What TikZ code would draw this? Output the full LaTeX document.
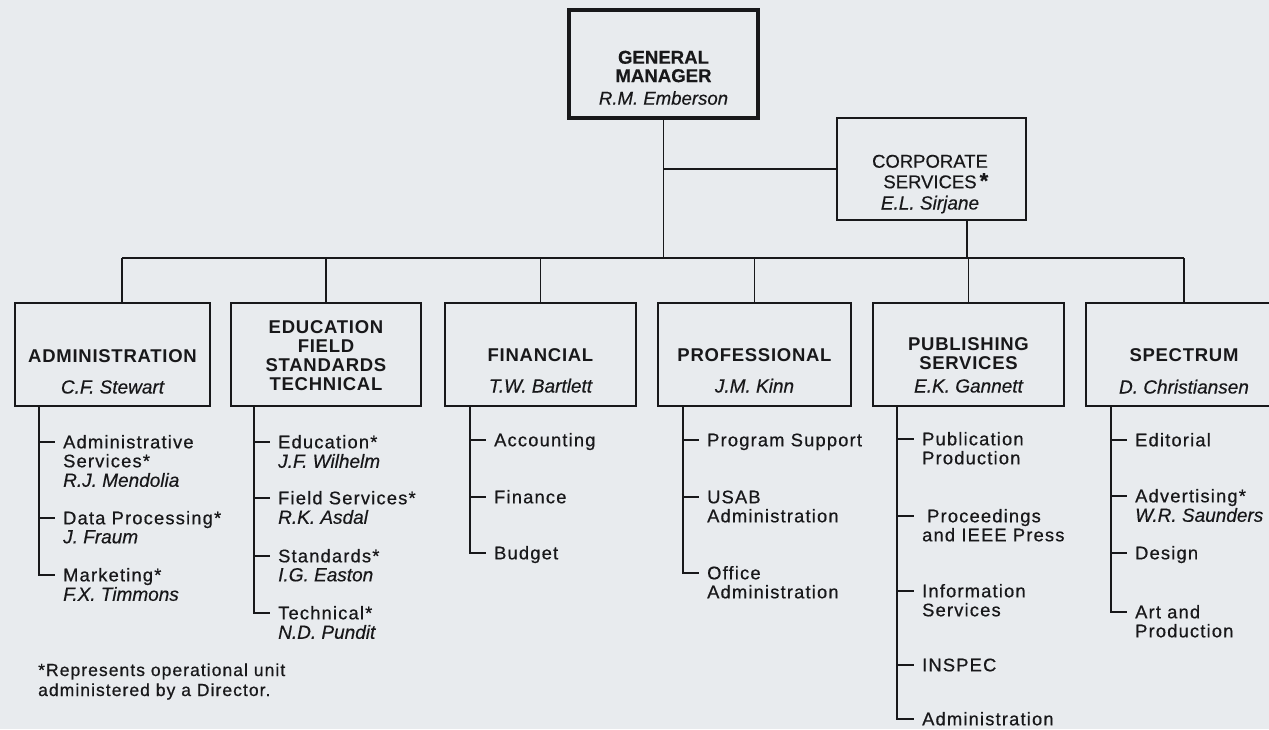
\documentclass[tikz,border=0pt]{standalone}
\usepackage{fontspec}
\setmainfont{Liberation Sans}[FakeBold=0.4]
\newfontfamily\itemfam{Liberation Sans}[LetterSpace=6.5,FakeBold=0.6]
\newfontfamily\notefam{Liberation Sans}[LetterSpace=6,FakeBold=0.6]
\newfontfamily\headfam{Liberation Sans}[LetterSpace=4]
\definecolor{paper}{RGB}{232,235,238}
\definecolor{ink}{RGB}{24,24,26}
% left- and centre-aligned line stacks whose baseline is the first line
\newcommand\stack[1]{\begin{tabular}[t]{@{}l@{}}#1\end{tabular}}
\newcommand\cstack[1]{\begin{tabular}[t]{@{}c@{}}#1\end{tabular}}
% italic person names
\newcommand\who[1]{{\normalfont\fontsize{19}{19}\selectfont\itshape #1}}
% one entry of a department list: name, spine x, tick end x, tick y, text
\newcommand\orgitem[5]{%
  \node[item] (#1) at (#3,#4+6.3) {\stack{#5}};
  \coordinate (#1-s) at (#2,#4);
  \draw[link] (#1-s) -- ([yshift=6.3pt]#1.base west);
}
\begin{document}
\begin{tikzpicture}[x=1pt,y=-1pt,
  box/.style={draw=ink, line width=1.8pt, inner sep=0pt, minimum height=103pt},
  gmline/.style={line width=3.8pt},
  link/.style={draw=ink, line width=1.8pt},
  head/.style={anchor=base, inner sep=0pt, text=ink,
    font=\headfam\fontsize{18.5}{19}\selectfont\bfseries},
  person/.style={anchor=base, inner sep=0pt, text=ink,
    font=\fontsize{19}{19}\selectfont\itshape},
  item/.style={anchor=base west, inner xsep=8pt, inner ysep=0pt, text=ink,
    font=\itemfam\fontsize{18.3}{19}\selectfont},
]
\path[fill=paper, use as bounding box] (0,0) rectangle (1269,729);
\clip (0,0) rectangle (1269,729);

% ---- top level ----
\node[box, gmline, minimum width=189pt, minimum height=108pt] (gm) at (663.5,64) {};
\node[head, font=\fontsize{18.6}{18}\selectfont\bfseries] (gm-h) at (663.5,63.7) {\cstack{GENERAL\\MANAGER}};
\node[person, font=\fontsize{18.6}{19}\selectfont\itshape] (gm-n) at (663.5,104.7) {R.M. Emberson};

\node[box, minimum width=189pt, minimum height=102pt] (corp) at (931.5,169) {};
\node[head, font=\fontsize{18.5}{18}\selectfont] (corp-h) at (930,167.7)
  {\cstack{CORPORATE\\SERVICES\rlap{\,\bfseries\fontsize{22}{18}\selectfont*}}};
\node[person] (corp-n) at (930,209.5) {E.L. Sirjane};

% ---- departments ----
\node[box, minimum width=195pt] (adm)  at (112.5,354.5) {};
\node[box, minimum width=190pt] (edu)  at (326,354.5) {};
\node[box, minimum width=191pt] (fin)  at (540.5,354.5) {};
\node[box, minimum width=193pt] (prof) at (754.5,354.5) {};
\node[box, minimum width=191pt] (pub)  at (968.5,354.5) {};
\node[box, minimum width=196pt] (spec) at (1184,354.5) {};

\node[head] (adm-h) at (112.5,362.5) {ADMINISTRATION};
\node[person] (adm-n) at (112.5,393.5) {C.F. Stewart};
\node[head] (edu-h) at (326,333.5) {\cstack{EDUCATION\\FIELD\\STANDARDS\\TECHNICAL}};
\node[head] (fin-h) at (540.5,361.5) {FINANCIAL};
\node[person] (fin-n) at (540.5,392.5) {T.W. Bartlett};
\node[head] (prof-h) at (754.5,361.5) {PROFESSIONAL};
\node[person] (prof-n) at (754.5,392.5) {J.M. Kinn};
\node[head] (pub-h) at (968.5,350.5) {\cstack{PUBLISHING\\SERVICES}};
\node[person] (pub-n) at (968.5,392.5) {E.K. Gannett};
\node[head] (spec-h) at (1184,361.5) {SPECTRUM};
\node[person] (spec-n) at (1184,393.5) {D. Christiansen};

% ---- connectors between the boxes ----
\coordinate (busL) at (122,258);
\coordinate (busR) at (1184,258);
\draw[link] (busL) -- (busR);
\draw[link] (gm.south) -- (gm.south |- busL);
\draw[link] (gm.south |- corp.west) -- (corp.west);
\draw[link] ([xshift=35.5pt]corp.south) -- ([xshift=35.5pt]corp.south |- busL);
\draw[link] (busL) -- (busL |- adm.north);
\foreach \b in {edu,fin,prof,pub,spec}
  \draw[link] (\b.north) -- (\b.north |- busL);

% ---- Administration ----
\orgitem{a1}{39}{55}{442}{Administrative\\Services*\\\who{R.J. Mendolia}}
\orgitem{a2}{39}{55}{518}{Data Processing*\\\who{J. Fraum}}
\orgitem{a3}{39}{55}{575}{Marketing*\\\who{F.X. Timmons}}
\draw[link] (adm.south -| a1-s) -- (a3-s) -- ([yshift=6.3pt]a3.base west);

% ---- Education / Field / Standards / Technical ----
\orgitem{e1}{254}{270}{442}{Education*\\\who{J.F. Wilhelm}}
\orgitem{e2}{254}{270}{498}{Field Services*\\\who{R.K. Asdal}}
\orgitem{e3}{254}{270}{556}{Standards*\\\who{I.G. Easton}}
\orgitem{e4}{254}{270}{613}{Technical*\\\who{N.D. Pundit}}
\draw[link] (edu.south -| e1-s) -- (e4-s) -- ([yshift=6.3pt]e4.base west);

% ---- Financial ----
\orgitem{f1}{470}{486}{440}{Accounting}
\orgitem{f2}{470}{486}{497}{Finance}
\orgitem{f3}{470}{486}{553}{Budget}
\draw[link] (fin.south -| f1-s) -- (f3-s) -- ([yshift=6.3pt]f3.base west);

% ---- Professional ----
\orgitem{p1}{683}{699}{440}{Program Support}
\orgitem{p2}{683}{699}{497}{USAB\\Administration}
\orgitem{p3}{683}{699}{573}{Office\\Administration}
\draw[link] (prof.south -| p1-s) -- (p3-s) -- ([yshift=6.3pt]p3.base west);

% ---- Publishing Services ----
\orgitem{u1}{897}{914}{439}{Publication\\Production}
\orgitem{u2}{897}{914}{516}{\hspace{5pt}Proceedings\\and IEEE Press}
\orgitem{u3}{897}{914}{591}{Information\\Services}
\orgitem{u4}{897}{914}{665}{INSPEC}
\orgitem{u5}{897}{914}{719}{Administration}
\draw[link] (pub.south -| u1-s) -- (u5-s) -- ([yshift=6.3pt]u5.base west);

% ---- Spectrum ----
\orgitem{s1}{1111}{1127}{440}{Editorial}
\orgitem{s2}{1111}{1127}{496}{Advertising*\\\who{W.R. Saunders}}
\orgitem{s3}{1111}{1127}{553}{Design}
\orgitem{s4}{1111}{1127}{612}{Art and\\Production}
\draw[link] (spec.south -| s1-s) -- (s4-s) -- ([yshift=6.3pt]s4.base west);

% ---- footnote ----
\node[item, inner xsep=0pt, font=\notefam\fontsize{17.5}{20}\selectfont] (note) at (38,676)
  {\stack{*Represents operational unit\\administered by a Director.}};
\end{tikzpicture}
\end{document}
